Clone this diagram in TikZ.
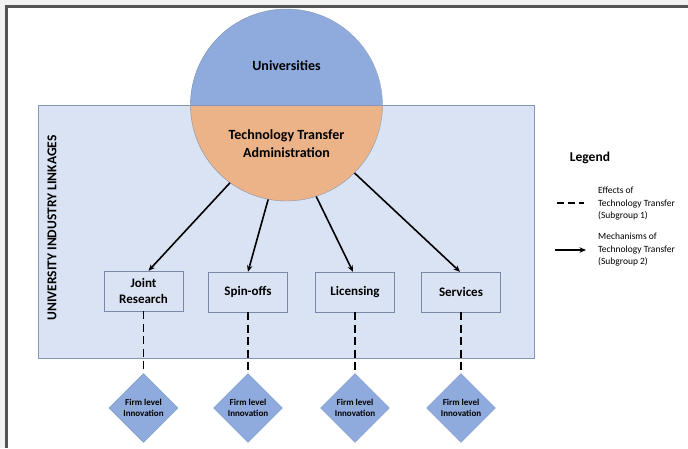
\documentclass[tikz,border=0pt]{standalone}
\usepackage{fontspec}
\setmainfont{Carlito}
\usetikzlibrary{shapes.geometric,arrows.meta}

\definecolor{unifill}{RGB}{143,170,220}
\definecolor{ttafill}{RGB}{236,179,137}
\definecolor{linkfill}{RGB}{218,227,243}
\definecolor{linkline}{RGB}{132,151,180}
\definecolor{boxline}{RGB}{120,136,166}
\definecolor{firmline}{RGB}{120,146,200}
\definecolor{frameline}{RGB}{85,85,85}
\definecolor{framestrip}{RGB}{242,242,242}

\begin{document}
\begin{tikzpicture}[x=1pt,y=-1pt,>={Stealth[length=6.5pt,width=5.5pt]},
  mech/.style={->,line width=1.6pt},
  effect/.style={line width=1.7pt,dash pattern=on 8pt off 4.5pt},
  mechbox/.style={draw=boxline,fill=linkfill,minimum width=79pt,minimum height=40pt,inner sep=2pt,align=center,font=\bfseries\fontsize{13}{16}\selectfont},
  firm/.style={diamond,draw=firmline,fill=unifill,minimum width=69pt,minimum height=69pt,inner sep=0pt,align=center,font=\bfseries\fontsize{9}{11.5}\selectfont},
  legtext/.style={anchor=west,align=left,inner sep=0pt,font=\fontsize{9.5}{12.5}\selectfont}]
\useasboundingbox (0,0) rectangle (688,448);
% frame of the screenshot
\fill[framestrip] (0,0) rectangle (688,448);
\fill[white] (5,5) rectangle (688,448);
\fill[frameline] (5,5) rectangle (688,8);
\fill[frameline] (5,5) rectangle (8,448);
% linkages area
\draw[linkline,fill=linkfill] (38,105) rectangle (534,358);
\node[rotate=90,font=\bfseries\fontsize{13.5}{16}\selectfont] (linkages) at (52,228) {UNIVERSITY INDUSTRY LINKAGES};
% universities / tta
\node[circle,minimum size=192pt,inner sep=0pt] (uni) at (286.5,105) {};
\fill[unifill] (uni.west) arc[start angle=180,end angle=0,radius=96pt] -- cycle;
\fill[ttafill] (uni.west) arc[start angle=180,end angle=360,radius=96pt] -- cycle;
\draw[linkline] (uni.center) circle[radius=96pt];
\draw[linkline] (uni.west) -- (uni.east);
\node[font=\bfseries\fontsize{14}{18}\selectfont] (unitext) at (286.5,66) {Universities};
\node[align=center,font=\bfseries\fontsize{14}{18}\selectfont] (ttatext) at (286.5,144) {Technology Transfer\\Administration};
% mechanisms
\node[mechbox] (jr) at (143.5,291) {Joint\\Research};
\node[mechbox] (sp) at (248,292) {Spin-offs};
\node[mechbox] (li) at (355,292) {Licensing};
\node[mechbox] (se) at (461,292) {Services};
% effects
\node[firm] (f1) at (143.5,408) {Firm level\\Innovation};
\node[firm] (f2) at (248,408) {Firm level\\Innovation};
\node[firm] (f3) at (355,408) {Firm level\\Innovation};
\node[firm] (f4) at (461,408) {Firm level\\Innovation};
\draw[mech] (uni.234) -- ([xshift=5pt]jr.north);
\draw[mech] (uni.259) -- (sp.north);
\draw[mech] (uni.288) -- ([xshift=-2pt]li.north);
\draw[mech] (uni.315) -- ([xshift=-1pt]se.north);
\draw[effect] (jr.south) -- (f1.north);
\draw[effect] (sp.south) -- (f2.north);
\draw[effect] (li.south) -- (f3.north);
\draw[effect] (se.south) -- (f4.north);
% legend
\node[font=\bfseries\fontsize{13.5}{16}\selectfont] (legend) at (590,158) {Legend};
\coordinate (e1) at (557,203);
\coordinate (e2) at (584,203);
\draw[line width=1.7pt,dash pattern=on 7pt off 4pt] (e1) -- (e2);
\node[legtext] (effects) at (598,204) {Effects of\\Technology Transfer\\(Subgroup 1)};
\coordinate (m1) at (555,250);
\coordinate (m2) at (586,250);
\draw[mech] (m1) -- (m2);
\node[legtext] (mechanisms) at (598,250) {Mechanisms of\\Technology Transfer\\(Subgroup 2)};
\end{tikzpicture}
\end{document}
